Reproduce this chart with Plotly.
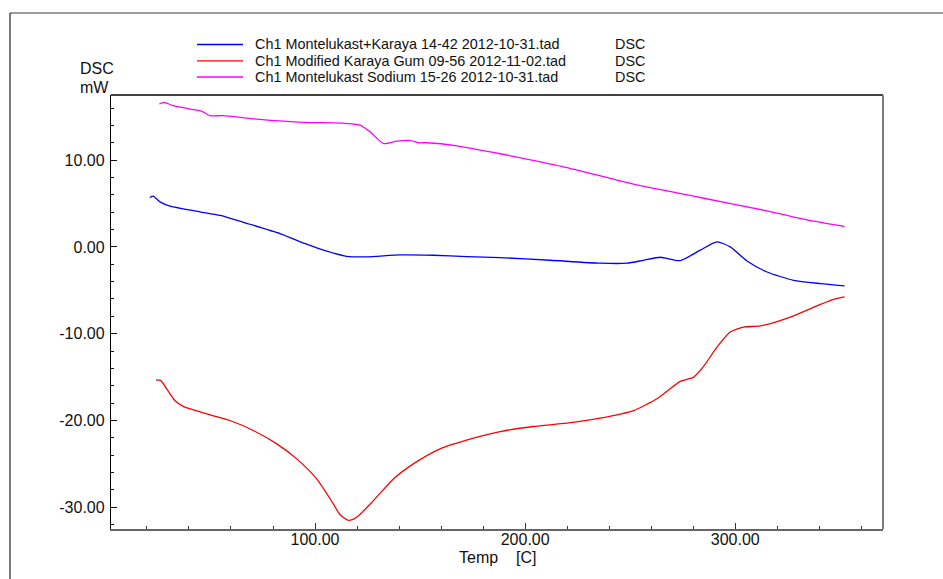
import plotly.graph_objects as go

# DSC thermograms: temperature (C) vs heat flow (mW)
blue_name = "Ch1 Montelukast+Karaya 14-42 2012-10-31.tad"
blue_t = [21.4, 23.0, 26.2, 31.0, 45.2, 54.8, 69.0, 83.3, 96.0, 105.6, 115.0, 124.6,
          140.5, 156.3, 172.2, 188.0, 211.9, 235.7, 248.4, 256.3, 264.3, 273.8, 283.3,
          291.3, 297.6, 305.6, 315.1, 327.8, 340.5, 352.0]
blue_v = [5.70, 5.85, 5.19, 4.69, 4.04, 3.62, 2.61, 1.54, 0.31, -0.50, -1.08, -1.15,
          -0.92, -0.96, -1.11, -1.23, -1.54, -1.88, -1.88, -1.54, -1.19, -1.58, -0.38,
          0.58, 0.00, -1.62, -2.89, -3.85, -4.23, -4.50]

red_name = "Ch1 Modified Karaya Gum 09-56 2012-11-02.tad"
red_t = [24.3, 26.5, 29.4, 33.3, 37.3, 48.4, 59.5, 70.6, 81.8, 91.3, 100.8, 108.7,
         111.9, 115.9, 119.8, 127.8, 137.3, 146.8, 159.5, 175.4, 188.1, 204.0, 219.8,
         235.7, 251.6, 262.7, 273.8, 280.2, 284.9, 291.3, 297.6, 303.9, 311.9, 326.2,
         340.5, 346.8, 352.0]
red_v = [-15.31, -15.38, -16.35, -17.69, -18.38, -19.23, -20.00, -21.15, -22.69, -24.42,
         -26.73, -29.61, -30.85, -31.50, -31.15, -29.23, -26.73, -25.00, -23.27, -22.04,
         -21.27, -20.69, -20.31, -19.73, -18.85, -17.50, -15.50, -15.00, -13.77, -11.54,
         -9.81, -9.23, -9.11, -8.08, -6.62, -6.04, -5.77]

mag_name = "Ch1 Montelukast Sodium 15-26 2012-10-31.tad"
mag_t = [25.9, 28.1, 32.5, 40.5, 46.0, 50.0, 56.3, 72.2, 94.4, 111.9, 121.4, 126.2,
         132.5, 138.9, 145.2, 149.2, 153.2, 167.5, 188.1, 218.3, 251.6, 283.3, 315.1,
         337.3, 352.0]
mag_v = [16.46, 16.65, 16.27, 15.88, 15.65, 15.12, 15.12, 14.73, 14.35, 14.27, 14.04,
         13.27, 11.92, 12.19, 12.27, 12.00, 12.00, 11.65, 10.73, 9.23, 7.23, 5.69, 4.15,
         2.96, 2.35]

# axis ticks
x_tick_vals = [100, 200, 300]
x_tick_text = ["100.00", "200.00", "300.00"]
y_tick_vals = [-30, -20, -10, 0, 10]
y_tick_text = ["-30.00", "-20.00", "-10.00", "0.00", "10.00"]

series = [
    (blue_name, blue_t, blue_v, "#0000FF"),
    (red_name, red_t, red_v, "#FF0000"),
    (mag_name, mag_t, mag_v, "#FF00FF"),
]

FONT = "Liberation Sans, Arial, Helvetica, sans-serif"

fig = go.Figure()
for name, t, v, color in series:
    fig.add_trace(go.Scatter(
        x=t, y=v, mode="lines", name=name,
        line=dict(color=color, width=1.3, shape="spline", smoothing=0.6),
        showlegend=False,
    ))

W, H = 943, 579
L, R, T, B = 111, 60, 95, 50
pw, ph = W - L - R, H - T - B


def px(x):
    return (x - L) / pw


def py(y):
    return (H - B - y) / ph


shapes = []
annotations = []

# legend block: sample line, file name, signal label
legend_rows = [44.5, 60.8, 77.0]
for (name, _, _, color), row in zip(series, legend_rows):
    shapes.append(dict(type="line", xref="paper", yref="paper",
                       x0=px(197), x1=px(243), y0=py(row), y1=py(row),
                       line=dict(color=color, width=1.3)))
    annotations.append(dict(text=name, xref="paper", yref="paper",
                            x=px(253), y=py(row), xanchor="left", yanchor="middle",
                            showarrow=False, font=dict(family=FONT, size=14.4, color="#111")))
    annotations.append(dict(text="DSC", xref="paper", yref="paper",
                            x=px(613), y=py(row), xanchor="left", yanchor="middle",
                            showarrow=False, font=dict(family=FONT, size=14.4, color="#111")))

# axis titles
annotations += [
    dict(text="DSC", xref="paper", yref="paper", x=px(78), y=py(68),
         xanchor="left", yanchor="middle", showarrow=False,
         font=dict(family=FONT, size=16, color="#111")),
    dict(text="mW", xref="paper", yref="paper", x=px(78), y=py(87),
         xanchor="left", yanchor="middle", showarrow=False,
         font=dict(family=FONT, size=16, color="#111")),
    dict(text="Temp", xref="paper", yref="paper", x=px(457), y=py(557),
         xanchor="left", yanchor="middle", showarrow=False,
         font=dict(family=FONT, size=16, color="#111")),
    dict(text="[C]", xref="paper", yref="paper", x=px(514), y=py(557),
         xanchor="left", yanchor="middle", showarrow=False,
         font=dict(family=FONT, size=16, color="#111")),
]

# outer frame (top and left edges) and plot box top/right edges
shapes += [
    dict(type="line", xref="paper", yref="paper", x0=px(10), x1=px(943),
         y0=py(13), y1=py(13), line=dict(color="#7a7a7a", width=1.5)),
    dict(type="line", xref="paper", yref="paper", x0=px(10), x1=px(10),
         y0=py(13), y1=py(579), line=dict(color="#222", width=1.2)),
    dict(type="line", xref="paper", yref="paper", x0=0, x1=1, y0=1, y1=1,
         line=dict(color="#000", width=1.3)),
    dict(type="line", xref="paper", yref="paper", x0=1, x1=1, y0=0, y1=1,
         line=dict(color="#7a7a7a", width=2)),
]

fig.update_layout(
    width=W, height=H,
    margin=dict(l=L, r=R, t=T, b=B, pad=0),
    paper_bgcolor="white", plot_bgcolor="white",
    font=dict(family=FONT, size=16, color="#111"),
    shapes=shapes, annotations=annotations,
    showlegend=False,
)
fig.update_xaxes(
    range=[2.9, 370.3], tickvals=x_tick_vals, ticktext=x_tick_text,
    ticks="inside", ticklen=6, tickcolor="#333", tickwidth=1,
    showgrid=False, zeroline=False,
    showline=True, linecolor="#666", linewidth=2,
    tickfont=dict(family=FONT, size=16, color="#111"),
    ticklabelstandoff=-5,
    minor=dict(dtick=20, tick0=0, ticks="inside", ticklen=3, tickcolor="#333", showgrid=False),
)
fig.update_yaxes(
    range=[-32.5, 17.5], tickvals=y_tick_vals, ticktext=y_tick_text,
    ticks="inside", ticklen=6, tickcolor="#111", tickwidth=1,
    showgrid=False, zeroline=False,
    showline=True, linecolor="#000", linewidth=1.3,
    tickfont=dict(family=FONT, size=16, color="#111"),
    ticklabelstandoff=2,
    minor=dict(dtick=2, tick0=0, ticks="inside", ticklen=3, tickcolor="#111", showgrid=False),
)

fig.write_html("out.html")
